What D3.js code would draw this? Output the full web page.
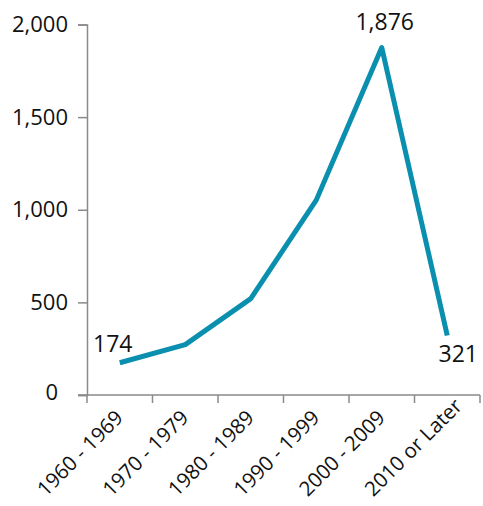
<!DOCTYPE html>
<html>
<head>
<meta charset="utf-8">
<script src="https://cdn.jsdelivr.net/npm/d3@7"></script>
<style>
  html, body { margin: 0; padding: 0; background: #fff; }
  svg { display: block; }
  text { font-family: "Open Sans", "Noto Sans", sans-serif; fill: #111; }
</style>
</head>
<body>
<svg id="chart" width="483" height="506"></svg>
<script>
// Decades of construction and the count for each
const categories = ["1960 - 1969", "1970 - 1979", "1980 - 1989", "1990 - 1999", "2000 - 2009", "2010 or Later"];
const values = [174, 272, 520, 1052, 1876, 321];
const yTicks = [0, 500, 1000, 1500, 2000];
const labelled = [0, 4, 5]; // indices that carry a value label

const svg = d3.select("#chart");
const margin = { left: 87, right: 3, top: 24.5, bottom: 111 };
const W = 483, H = 506;

const x = d3.scaleBand().domain(categories).range([margin.left, W - margin.right]).padding(0);
const y = d3.scaleLinear().domain([0, 2000]).range([H - margin.bottom, margin.top]);

const axisColor = "#8a8a8a";

// Y axis
const yAxis = svg.append("g")
  .attr("transform", `translate(${margin.left},0)`)
  .call(d3.axisLeft(y).tickValues(yTicks).tickSize(9).tickPadding(10).tickFormat(d3.format(",")));
yAxis.select(".domain").attr("stroke", axisColor).attr("stroke-width", 1.5);
yAxis.selectAll(".tick line").attr("stroke", axisColor).attr("stroke-width", 1.5);
yAxis.selectAll(".tick text")
  .style("font-size", "22px")
  .attr("fill", "#111")
  .attr("dx", d => d === 0 ? -10 : 0)
  .attr("dy", d => d === 0 ? "0.22em" : "0.32em");

// X axis with ticks on band boundaries
const xAxisG = svg.append("g").attr("transform", `translate(0,${y(0)})`);
xAxisG.append("line")
  .attr("x1", margin.left - 9).attr("x2", W - margin.right)
  .attr("stroke", axisColor).attr("stroke-width", 1.5);
const bounds = categories.map(c => x(c)).concat([x(categories[categories.length - 1]) + x.bandwidth()]);
xAxisG.selectAll("line.tk").data(bounds).join("line")
  .attr("class", "tk")
  .attr("x1", d => d).attr("x2", d => d).attr("y1", 0).attr("y2", 8)
  .attr("stroke", axisColor).attr("stroke-width", 1.5);
xAxisG.selectAll("text.cat").data(categories).join("text")
  .attr("class", "cat")
  .attr("text-anchor", "start")
  .style("font-size", "20.5px")
  .attr("transform", d => `translate(${x(d) + x.bandwidth() / 2 - 74},${102.5}) rotate(-45)`)
  .text(d => d);

// Series line
const cx = d => x(d) + x.bandwidth() / 2;
const line = d3.line().x((d, i) => cx(categories[i])).y(d => y(d));
svg.append("path")
  .datum(values)
  .attr("d", line)
  .attr("fill", "none")
  .attr("stroke", "#0a8fae")
  .attr("stroke-width", 5)
  .attr("stroke-linejoin", "round");

// Value labels
const fmt = d3.format(",");
const labelPos = {
  0: { dx: -7, dy: -11 },
  4: { dx: 3, dy: -17 },
  5: { dx: 11, dy: 26.5 }
};
svg.selectAll("text.val").data(labelled).join("text")
  .attr("class", "val")
  .attr("text-anchor", "middle")
  .style("font-size", "23px")
  .attr("x", i => cx(categories[i]) + labelPos[i].dx)
  .attr("y", i => y(values[i]) + labelPos[i].dy)
  .text(i => fmt(values[i]));
</script>
</body>
</html>
